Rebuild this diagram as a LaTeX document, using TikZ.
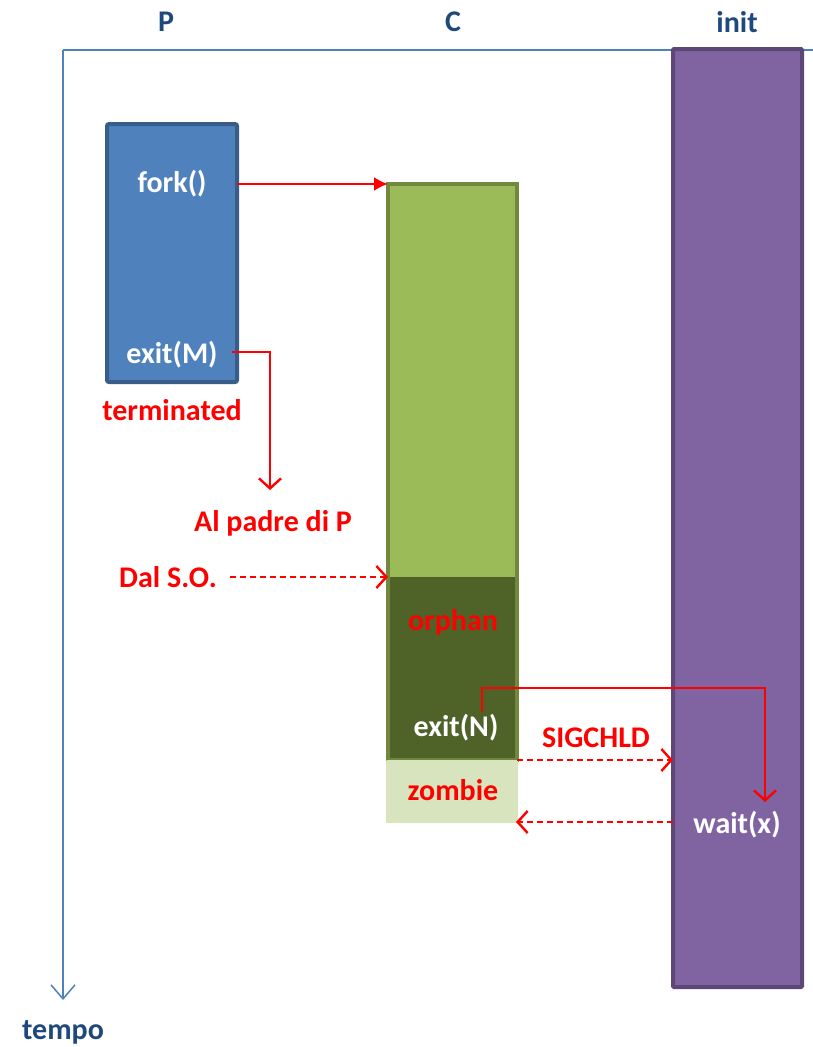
\documentclass[tikz,border=0pt]{standalone}
\usepackage{fontspec}
\setmainfont{Carlito}
\usetikzlibrary{arrows.meta}
\definecolor{axisblue}{HTML}{4F81BD}
\definecolor{hdrblue}{HTML}{1F497D}
\definecolor{pfill}{HTML}{4F81BD}
\definecolor{pdraw}{HTML}{385D8A}
\definecolor{cfill}{HTML}{9BBB59}
\definecolor{cdraw}{HTML}{71893F}
\definecolor{cdark}{HTML}{4F6228}
\definecolor{zfill}{HTML}{D7E4BD}
\definecolor{ifill}{HTML}{8064A2}
\definecolor{idraw}{HTML}{5C4776}
\definecolor{redc}{HTML}{FF0000}
\tikzset{
  txt/.style={font=\fontsize{30}{35}\selectfont\bfseries, inner sep=0pt, anchor=center},
  wtxt/.style={txt, text=white},
  rtxt/.style={txt, text=redc},
  htxt/.style={txt, text=hdrblue},
  redline/.style={draw=redc, line width=2.4pt},
  redarrow/.style={redline, -{Straight Barb[length=10pt,width=22pt,line width=2.4pt]}},
  reddash/.style={redarrow, dash pattern=on 6pt off 4pt},
}
\begin{document}
\begin{tikzpicture}[x=1pt,y=-1pt]
\useasboundingbox (0,0) rectangle (813,1047);
% axis
\coordinate (ax0) at (63,50);
\coordinate (axR) at (813,50);
\coordinate (axD) at (63,1000);
\draw[axisblue, line width=1.5pt] (axR) -- (ax0);
\draw[axisblue, line width=1.5pt, -{Straight Barb[length=14pt,width=24pt,line width=1.5pt]}] (ax0) -- (axD);
\node[htxt] (hP) at (166,22) {P};
\node[htxt] (hC) at (453,22) {C};
\node[htxt] (hI) at (737,22) {init};
\node[htxt] (tempo) at (63,1032) {tempo};
% init
\draw[fill=ifill, draw=idraw, line width=4pt, rounded corners=1pt] (673,49) rectangle (802,987);
% P
\draw[fill=pfill, draw=pdraw, line width=4pt, rounded corners=2pt] (107,124) rectangle (237,382);
% C
\fill[cfill] (388,184) rectangle (517,577);
\fill[cdark] (388,577) rectangle (517,760);
\draw[draw=cdraw, line width=3.5pt] (388,184) rectangle (517,760);
\fill[zfill, rounded corners=1pt] (386,760) rectangle (518,823);
% nodes
\node[wtxt] (fork) at (172,184) {fork()};
\node[wtxt] (exitM) at (172,355) {exit(M)};
\node[rtxt] (term) at (172,410) {terminated};
\node[rtxt] (padre) at (273,523) {Al padre di P};
\node[rtxt] (dalso) at (168,577) {Dal S.O.};
\node[rtxt] (orphan) at (453,622) {orphan};
\node[wtxt] (exitN) at (456,728) {exit(N)};
\node[rtxt] (sig) at (596,738) {SIGCHLD};
\node[rtxt] (zombie) at (453,790) {zombie};
\node[wtxt] (wait) at (737,825) {wait(x)};
% coordinates
\coordinate (forkS) at (237,184);
\coordinate (Ctop) at (388,184);
\coordinate (exMs) at (232,352);
\coordinate (exMe) at (270,490);
\coordinate (dalS) at (230,577);
\coordinate (dalE) at (388,577);
\coordinate (exNs) at (482,712);
\coordinate (waitE) at (765,802);
\coordinate (sigS) at (517,760);
\coordinate (sigE) at (673,760);
\coordinate (wS) at (673,822);
\coordinate (wE) at (516,822);
% arrows
\draw[redline, -{Latex[length=14pt,width=14pt]}] (forkS) -- (Ctop);
\draw[redarrow] (exMs) -| (exMe);
\draw[reddash] (dalS) -- (dalE);
\draw[redarrow] (exNs) |- (482,688) -| (waitE);
\draw[reddash] (sigS) -- (sigE);
\draw[reddash] (wS) -- (wE);
\end{tikzpicture}
\end{document}
